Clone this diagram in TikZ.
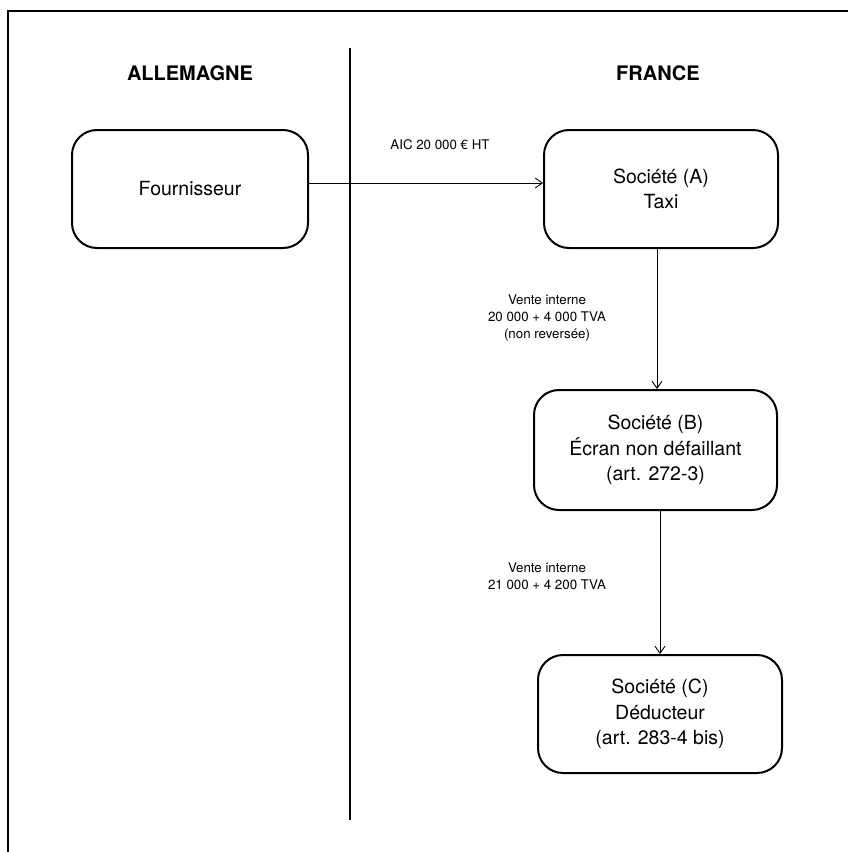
\documentclass[tikz,border=0pt]{standalone}
\usepackage{fontspec}
\setmainfont{TeX Gyre Heros}
\usetikzlibrary{arrows.meta}
\begin{document}
\begin{tikzpicture}[x=1pt,y=-1pt,
  box/.style={draw,line width=2pt,rounded corners=25pt,align=center,inner sep=0pt,
    font=\fontsize{19.5}{25.5}\selectfont},
  lbl/.style={align=center,inner sep=0pt,font=\fontsize{13.3}{17}\selectfont},
  head/.style={inner sep=0pt,font=\fontsize{20}{24}\selectfont\bfseries},
  arr/.style={line width=0.9pt,-{Straight Barb[length=7pt,width=10pt]}},
  rule/.style={line width=2pt}]
\useasboundingbox (0,0) rectangle (848,852);
\coordinate (fTR) at (848,11);
\coordinate (fTL) at (8,11);
\coordinate (fBL) at (8,852);
\draw[rule] (fTR) -- (fTL) -- (fBL);
\coordinate (dT) at (350,48);
\coordinate (dB) at (350,820);
\draw[rule] (dT) -- (dB);
\node[head] (hde) at (190,73) {ALLEMAGNE};
\node[head] (hfr) at (658,73) {FRANCE};
\node[box,minimum width=236pt,minimum height=118pt] (four) at (190,189) {Fournisseur};
\node[box,minimum width=234pt,minimum height=118pt] (A) at (661,189) {Société (A)\\Taxi};
\node[box,minimum width=243pt,minimum height=120pt] (B) at (655.5,450) {Société (B)\\Écran non défaillant\\(art. 272-3)};
\node[box,minimum width=244pt,minimum height=118pt] (C) at (660,714) {Société (C)\\Déducteur\\(art. 283-4 bis)};
\coordinate (h1) at (0,183);
\coordinate (v1) at (657,0);
\coordinate (v2) at (660,0);
\draw[arr] (four.east |- h1) -- (A.west |- h1);
\draw[arr] (A.south -| v1) -- (B.north -| v1);
\draw[arr] (B.south -| v2) -- (C.north -| v2);
\node[lbl] (l1) at (440,145) {AIC 20 000 € HT};
\node[lbl] (l2) at (547,318) {Vente interne\\20 000 + 4 000 TVA\\(non reversée)};
\node[lbl] (l3) at (547,576) {Vente interne\\21 000 + 4 200 TVA};
\end{tikzpicture}
\end{document}
